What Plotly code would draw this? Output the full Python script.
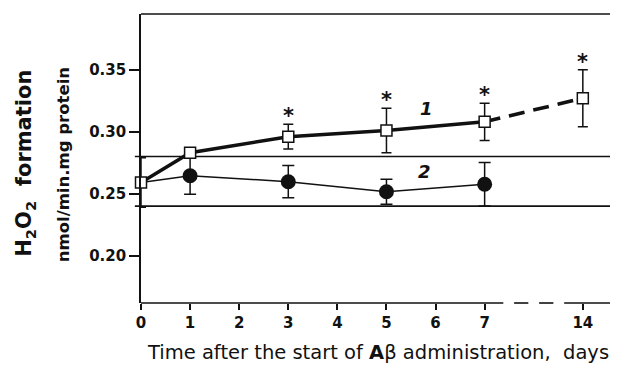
import plotly.graph_objects as go

# ---- data ----
days = [0, 1, 3, 5, 7, 14]
tick_days = [0, 1, 2, 3, 4, 5, 6, 7, 14]

s1_mean = [0.259, 0.283, 0.296, 0.301, 0.308, 0.327]
s1_err = [0.020, 0.000, 0.010, 0.018, 0.015, 0.023]
s1_sig = [False, False, True, True, True, True]

s2_days = [1, 3, 5, 7]
s2_mean = [0.2645, 0.2597, 0.2516, 0.2576]
s2_err = [0.015, 0.013, 0.010, 0.0175]

band = [0.24, 0.28]
yticks = [0.20, 0.25, 0.30, 0.35]
series_labels = ["1", "2"]


# broken time axis: days after 7 are drawn at position 9
def pos(d):
    return d if d <= 7 else 9


FONT = "DejaVu Sans"
BLACK = "#111111"

fig = go.Figure()

# series 1 line: solid to day 7, dashed to day 14
solid_idx = [i for i, d in enumerate(days) if d <= 7]
fig.add_trace(go.Scatter(
    x=[pos(days[i]) for i in solid_idx], y=[s1_mean[i] for i in solid_idx],
    mode="lines", line=dict(color=BLACK, width=3.6), showlegend=False, hoverinfo="skip"))
fig.add_trace(go.Scatter(
    x=[pos(days[-2]), pos(days[-1])], y=[s1_mean[-2], s1_mean[-1]],
    mode="lines", line=dict(color=BLACK, width=3.6, dash="16px,9px"), showlegend=False,
    hoverinfo="skip"))

# series 2 line (starts at shared baseline of day 0)
fig.add_trace(go.Scatter(
    x=[pos(days[0])] + [pos(d) for d in s2_days], y=[s1_mean[0]] + s2_mean,
    mode="lines", line=dict(color=BLACK, width=1.5), showlegend=False, hoverinfo="skip"))

# series 2 markers
fig.add_trace(go.Scatter(
    x=[pos(d) for d in s2_days], y=s2_mean, mode="markers",
    marker=dict(symbol="circle", size=15, color=BLACK, line=dict(width=0)),
    error_y=dict(type="data", array=s2_err, color=BLACK, thickness=1.5, width=6),
    cliponaxis=False, showlegend=False))

# series 1 markers
fig.add_trace(go.Scatter(
    x=[pos(d) for d in days], y=s1_mean, mode="markers",
    marker=dict(symbol="square", size=11, color="white", line=dict(color=BLACK, width=1.5)),
    error_y=dict(type="data", array=s1_err, color=BLACK, thickness=1.5, width=5),
    cliponaxis=False, showlegend=False))

shapes = []
# reference band lines
for v in band:
    shapes.append(dict(type="line", xref="paper", yref="y", x0=-0.013, x1=1, y0=v, y1=v,
                       line=dict(color=BLACK, width=1.6), layer="below"))
# broken bottom axis
for a, b in [(0, 7.38), (7.60, 7.89), (8.11, 8.40), (8.62, 9.635)]:
    shapes.append(dict(type="line", xref="x", yref="paper", x0=a, x1=b, y0=0, y1=0,
                       line=dict(color=BLACK, width=1.6)))
# top frame
shapes.append(dict(type="line", xref="paper", yref="paper", x0=0, x1=1, y0=1, y1=1,
                   line=dict(color=BLACK, width=1.6)))

annotations = []
for d, m, e, s in zip(days, s1_mean, s1_err, s1_sig):
    if s:
        annotations.append(dict(x=pos(d), y=m + e, xref="x", yref="y", text="<b>*</b>",
                                showarrow=False, yanchor="middle", yshift=8,
                                font=dict(family=FONT, size=21, color=BLACK)))
annotations.append(dict(x=5.81, y=0.319, xref="x", yref="y", text="<b><i>" + series_labels[0] + "</i></b>",
                        showarrow=False, font=dict(family=FONT, size=18, color=BLACK)))
annotations.append(dict(x=5.78, y=0.2677, xref="x", yref="y", text="<b><i>" + series_labels[1] + "</i></b>",
                        showarrow=False, font=dict(family=FONT, size=18, color=BLACK)))

# axis titles
annotations.append(dict(x=0.5, y=-0.17, xref="paper", yref="paper",
                        text="Time after the start of <b>A</b>β administration,\u00a0 days",
                        showarrow=False, yanchor="middle",
                        font=dict(family=FONT, size=19.5, color=BLACK)))
annotations.append(dict(x=-0.244, y=0.484, xref="paper", yref="paper", textangle=-90,
                        text="<b>H<sub>2</sub>O<sub>2</sub>  formation</b>",
                        showarrow=False, xanchor="center", yanchor="middle",
                        font=dict(family=FONT, size=21, color=BLACK)))
annotations.append(dict(x=-0.164, y=0.478, xref="paper", yref="paper", textangle=-90,
                        text="<b>nmol/min.mg protein</b>",
                        showarrow=False, xanchor="center", yanchor="middle",
                        font=dict(family=FONT, size=16.5, color=BLACK)))

# page body adds an 8px offset, so the figure is sized to fit the window
fig.update_layout(
    width=610, height=360,
    margin=dict(l=133, r=2, t=6, b=65),
    paper_bgcolor="white", plot_bgcolor="white",
    shapes=shapes, annotations=annotations,
    xaxis=dict(range=[0, 9.635], showgrid=False, zeroline=False, showline=False,
               tickmode="array", tickvals=[pos(d) for d in tick_days],
               ticktext=[str(d) for d in tick_days],
               ticks="outside", ticklen=6, tickwidth=1.5, tickcolor=BLACK,
               tickfont=dict(family=FONT, size=15, color=BLACK, weight="bold")),
    yaxis=dict(range=[0.1619, 0.3949], showgrid=False, zeroline=False,
               showline=True, mirror=True, linecolor=BLACK, linewidth=1.6,
               tickmode="array", tickvals=yticks, ticktext=[f"{v:.2f}" for v in yticks],
               ticks="outside", ticklen=10, tickwidth=1.5, tickcolor=BLACK,
               tickfont=dict(family=FONT, size=15, color=BLACK, weight="bold")),
)

fig.write_html("out.html")
